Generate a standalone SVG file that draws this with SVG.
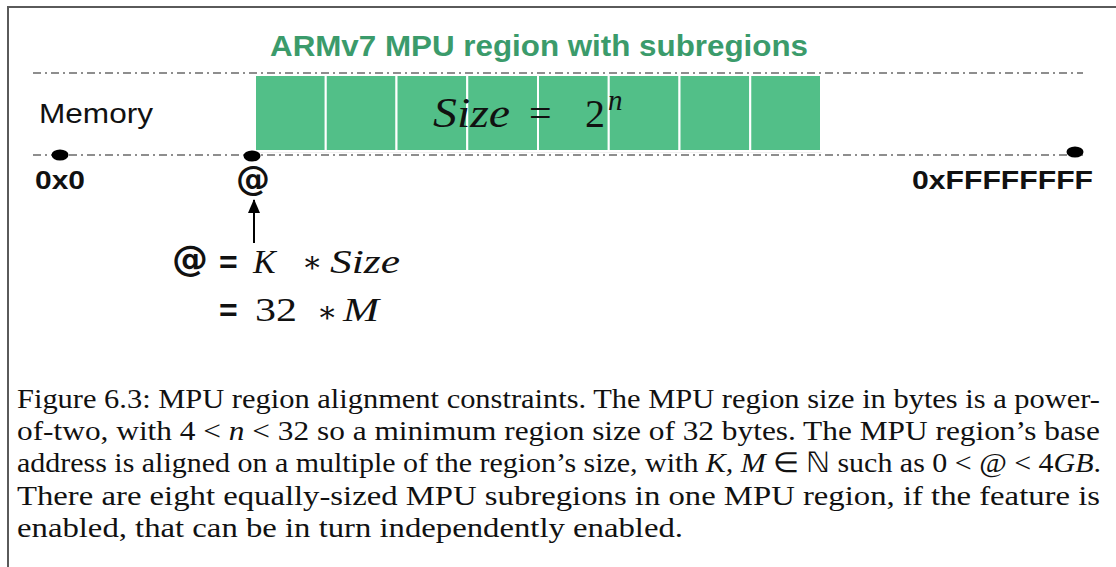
<svg xmlns="http://www.w3.org/2000/svg" width="1116" height="567" viewBox="0 0 1116 567">
<style>
.frame{fill:none;stroke:#5a5a5a;stroke-width:2}
.dash{fill:none;stroke:#8e8e8e;stroke-width:2;stroke-dasharray:8 4 2 4}
.cell{fill:#52bf88;stroke:#ffffff;stroke-width:2}
.dot{fill:#000}
.sans{font-family:"Liberation Sans",Arial,Helvetica,sans-serif}
.at{font-family:"DejaVu Sans","Liberation Sans",sans-serif;font-weight:bold}
.bold{font-weight:bold}
.math{font-family:"Liberation Serif","DejaVu Serif",serif}
.it{font-style:italic}
.cap{font-family:"Liberation Serif","Times New Roman",serif;font-size:28px;fill:#111}
</style>
<defs>
<marker id="ah" viewBox="0 0 14 12" refX="13" refY="6" markerWidth="14" markerHeight="12" markerUnits="userSpaceOnUse" orient="auto">
<path d="M0,0 L14,6 L0,12 Z" fill="#000"/>
</marker>
</defs>
<rect width="1116" height="567" fill="#fff"/>
<path class="frame" d="M8,567 L8,7 L1116,7"/>

<text id="title" class="sans bold" x="270" y="56" font-size="30" fill="#3b9b6b" textLength="538" lengthAdjust="spacingAndGlyphs">ARMv7 MPU region with subregions</text>

<g id="memory-lines">
<line class="dash" x1="33" y1="73" x2="1083" y2="73"/>
<line class="dash" x1="33" y1="155" x2="1083" y2="155"/>
</g>

<g id="region">
<rect x="255" y="75" width="566" height="77" fill="none" stroke="#e4e4e4" stroke-width="1"/>
<rect class="cell" x="255" y="75" width="70.75" height="76"/>
<rect class="cell" x="325.75" y="75" width="70.75" height="76"/>
<rect class="cell" x="396.5" y="75" width="70.75" height="76"/>
<rect class="cell" x="467.25" y="75" width="70.75" height="76"/>
<rect class="cell" x="538" y="75" width="70.75" height="76"/>
<rect class="cell" x="608.75" y="75" width="70.75" height="76"/>
<rect class="cell" x="679.5" y="75" width="70.75" height="76"/>
<rect class="cell" x="750.25" y="75" width="70.75" height="76"/>
<text class="math it" x="433" y="127" font-size="42" fill="#111" textLength="77" lengthAdjust="spacingAndGlyphs">Size</text>
<text class="math" x="529" y="127" font-size="40" fill="#111">=</text>
<text class="math" x="585" y="127" font-size="40" fill="#111">2</text>
<text class="math it" x="608" y="110" font-size="29" fill="#111">n</text>
</g>

<g id="labels">
<text class="sans" x="39" y="123" font-size="28" fill="#111" textLength="114" lengthAdjust="spacingAndGlyphs">Memory</text>
<text class="sans bold" x="35" y="189" font-size="26" fill="#111" textLength="50" lengthAdjust="spacingAndGlyphs">0x0</text>
<text class="at" x="236" y="190" font-size="34" fill="#111">@</text>
<text class="sans bold" x="912" y="189" font-size="26" fill="#111" textLength="181" lengthAdjust="spacingAndGlyphs">0xFFFFFFFF</text>
</g>

<g id="dots">
<ellipse class="dot" cx="60" cy="155" rx="8.5" ry="5.5"/>
<ellipse class="dot" cx="252" cy="156" rx="8.5" ry="5.5"/>
<ellipse class="dot" cx="1075" cy="152" rx="8.5" ry="5.5"/>
</g>

<g id="connectors">
<line x1="254" y1="243" x2="254" y2="200" stroke="#000" stroke-width="2" marker-end="url(#ah)"/>
</g>

<g id="formula">
<text class="at" x="172" y="271" font-size="36" fill="#111">@</text>
<text class="sans bold" x="219" y="273" font-size="32" fill="#111">=</text>
<text class="math it" x="253" y="273" font-size="34" fill="#111">K</text>
<text class="math" x="302" y="272" font-size="30" fill="#111">∗</text>
<text class="math it" x="330" y="273" font-size="34" fill="#111" textLength="70" lengthAdjust="spacingAndGlyphs">Size</text>
<text class="sans bold" x="219" y="321" font-size="32" fill="#111">=</text>
<text class="math" x="255" y="321" font-size="34" fill="#111" textLength="42" lengthAdjust="spacingAndGlyphs">32</text>
<text class="math" x="317" y="322" font-size="30" fill="#111">∗</text>
<text class="math it" x="343" y="321" font-size="34" fill="#111" textLength="36" lengthAdjust="spacingAndGlyphs">M</text>
</g>

<g id="caption">
<text class="cap" x="17" y="408" textLength="1083" lengthAdjust="spacingAndGlyphs">Figure 6.3: MPU region alignment constraints. The MPU region size in bytes is a power-</text>
<text class="cap" x="17" y="440" textLength="1083" lengthAdjust="spacingAndGlyphs">of-two, with 4 &lt; <tspan font-style="italic">n</tspan> &lt; 32 so a minimum region size of 32 bytes. The MPU region’s base</text>
<text class="cap" x="17" y="472" textLength="1084" lengthAdjust="spacingAndGlyphs">address is aligned on a multiple of the region’s size, with <tspan font-style="italic">K, M</tspan> ∈ ℕ such as 0 &lt; @ &lt; 4<tspan font-style="italic">GB</tspan>.</text>
<text class="cap" x="17" y="505" textLength="1083" lengthAdjust="spacingAndGlyphs">There are eight equally-sized MPU subregions in one MPU region, if the feature is</text>
<text class="cap" x="17" y="537" textLength="666" lengthAdjust="spacingAndGlyphs">enabled, that can be in turn independently enabled.</text>
</g>
</svg>
